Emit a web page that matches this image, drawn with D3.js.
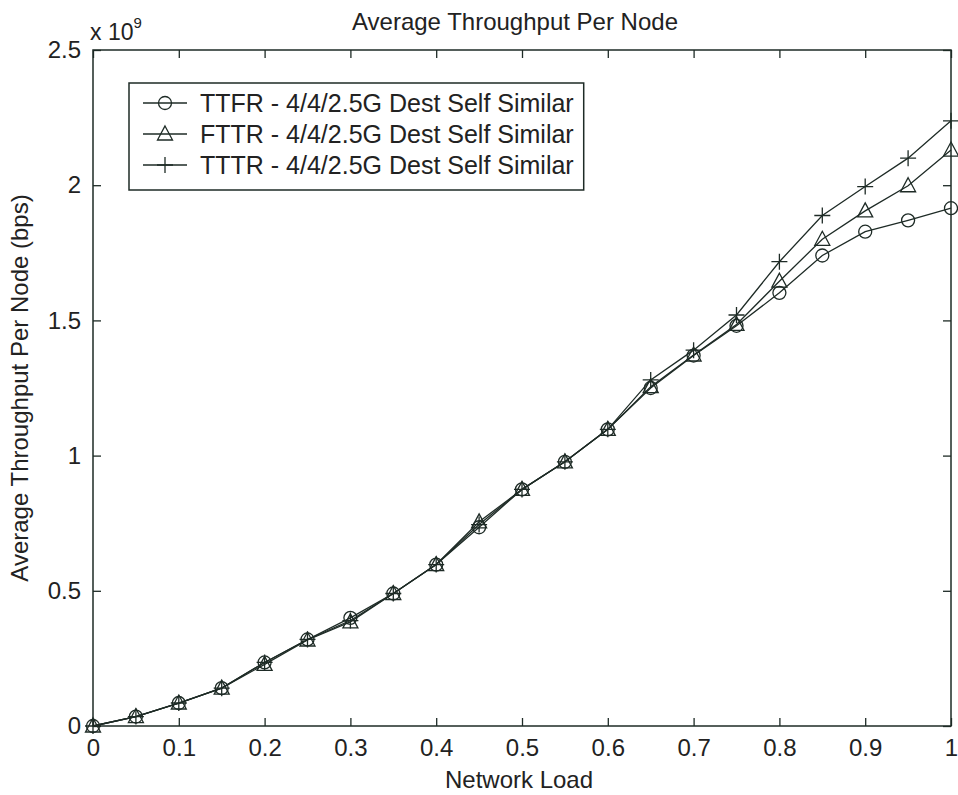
<!DOCTYPE html>
<html>
<head>
<meta charset="utf-8">
<script src="https://cdn.jsdelivr.net/npm/d3@7"></script>
<style>
  body { margin: 0; background: #fff; }
  svg text { font-family: "Liberation Sans", Arial, sans-serif; fill: #222; }
</style>
</head>
<body>
<script>
// network load (x) and throughput per node, in units of 1e9 bps
const loads = [0, 0.05, 0.1, 0.15, 0.2, 0.25, 0.3, 0.35, 0.4, 0.45, 0.5,
               0.55, 0.6, 0.65, 0.7, 0.75, 0.8, 0.85, 0.9, 0.95, 1];
const ttfr = [0, 0.035, 0.085, 0.14, 0.235, 0.32, 0.40, 0.49, 0.597, 0.735, 0.875,
              0.977, 1.097, 1.25, 1.37, 1.48, 1.602, 1.74, 1.828, 1.87, 1.915];
const fttr = [0, 0.035, 0.085, 0.14, 0.228, 0.318, 0.385, 0.49, 0.597, 0.755, 0.875,
              0.977, 1.097, 1.255, 1.372, 1.485, 1.645, 1.80, 1.905, 1.998, 2.13];
const tttr = [0, 0.035, 0.085, 0.14, 0.235, 0.32, 0.39, 0.49, 0.597, 0.745, 0.875,
              0.977, 1.097, 1.28, 1.39, 1.52, 1.717, 1.888, 1.995, 2.10, 2.238];
const seriesNames = ["TTFR - 4/4/2.5G Dest Self Similar",
                     "FTTR - 4/4/2.5G Dest Self Similar",
                     "TTTR - 4/4/2.5G Dest Self Similar"];
const seriesMarks = ["circle", "triangle", "plus"];
const xTicks = [0, 0.1, 0.2, 0.3, 0.4, 0.5, 0.6, 0.7, 0.8, 0.9, 1];
const yTicks = [0, 0.5, 1, 1.5, 2, 2.5];

const W = 958, H = 795;
const plotL = 93, plotR = 951, plotT = 50, plotB = 726;
const ink = "#1e2b26";

const svg = d3.select("body").append("svg")
    .attr("width", W).attr("height", H);

const x = d3.scaleLinear().domain([0, 1]).range([plotL, plotR]);
const y = d3.scaleLinear().domain([0, 2.5]).range([plotB, plotT]);

const fmt = d => String(d);

// axes, ticks pointing inwards like matlab
svg.append("g").attr("transform", "translate(0," + plotB + ")")
    .call(d3.axisBottom(x).tickValues(xTicks).tickFormat(fmt)
        .tickSizeInner(-8).tickSizeOuter(0).tickPadding(13));
svg.append("g").attr("transform", "translate(" + plotL + ",0)")
    .call(d3.axisLeft(y).tickValues(yTicks).tickFormat(fmt)
        .tickSizeInner(-8).tickSizeOuter(0).tickPadding(12));
svg.append("g").attr("transform", "translate(0," + plotT + ")")
    .call(d3.axisTop(x).tickValues(xTicks).tickFormat("")
        .tickSizeInner(-8).tickSizeOuter(0));
svg.append("g").attr("transform", "translate(" + plotR + ",0)")
    .call(d3.axisRight(y).tickValues(yTicks).tickFormat("")
        .tickSizeInner(-8).tickSizeOuter(0));

svg.selectAll(".domain").remove();
svg.selectAll(".tick line").attr("stroke", ink).attr("stroke-width", 1.3);
svg.selectAll(".tick text").attr("font-size", 24).attr("fill", "#222")
    .style("font-family", "Liberation Sans, Arial, sans-serif");

svg.append("rect")
    .attr("x", plotL).attr("y", plotT)
    .attr("width", plotR - plotL).attr("height", plotB - plotT)
    .attr("fill", "none").attr("stroke", ink).attr("stroke-width", 1.5);

// exponent label
const expo = svg.append("text").attr("x", 90).attr("y", 40).attr("font-size", 23);
expo.append("tspan").text("x 10");
expo.append("tspan").attr("font-size", 15).attr("dy", -12).text("9");

// titles
svg.append("text").attr("x", 515).attr("y", 30)
    .attr("text-anchor", "middle").attr("font-size", 24)
    .text("Average Throughput Per Node");
svg.append("text").attr("x", 519).attr("y", 788)
    .attr("text-anchor", "middle").attr("font-size", 24)
    .text("Network Load");
svg.append("text")
    .attr("transform", "translate(28," + ((plotT + plotB) / 2) + ") rotate(-90)")
    .attr("text-anchor", "middle").attr("font-size", 24)
    .text("Average Throughput Per Node (bps)");

// marker drawing
function drawMark(g, kind, cx, cy) {
  if (kind === "circle") {
    g.append("circle").attr("cx", cx).attr("cy", cy).attr("r", 6.5)
        .attr("fill", "none").attr("stroke", ink).attr("stroke-width", 1.3);
  } else if (kind === "triangle") {
    g.append("path")
        .attr("d", "M" + cx + "," + (cy - 8) + "L" + (cx + 7.5) + "," + (cy + 6) +
                   "L" + (cx - 7.5) + "," + (cy + 6) + "Z")
        .attr("fill", "none").attr("stroke", ink).attr("stroke-width", 1.3);
  } else {
    g.append("path")
        .attr("d", "M" + (cx - 8) + "," + cy + "H" + (cx + 8) +
                   "M" + cx + "," + (cy - 8) + "V" + (cy + 8))
        .attr("fill", "none").attr("stroke", ink).attr("stroke-width", 1.3);
  }
}

const allSeries = [ttfr, fttr, tttr];
const line = d3.line().x((d, i) => x(loads[i])).y(d => y(d));

allSeries.forEach((vals, s) => {
  const g = svg.append("g");
  g.append("path").datum(vals).attr("d", line)
      .attr("fill", "none").attr("stroke", ink).attr("stroke-width", 1.3);
  vals.forEach((v, i) => drawMark(g, seriesMarks[s], x(loads[i]), y(v)));
});

// legend
const leg = svg.append("g");
const legBox = leg.append("rect")
    .attr("x", 129).attr("y", 83).attr("height", 107)
    .attr("fill", "#fff").attr("stroke", ink).attr("stroke-width", 1.5);
let maxRight = 0;
seriesNames.forEach((name, s) => {
  const ry = 103 + s * 31;
  leg.append("line").attr("x1", 143).attr("x2", 187).attr("y1", ry).attr("y2", ry)
      .attr("stroke", ink).attr("stroke-width", 1.3);
  drawMark(leg, seriesMarks[s], 165, ry);
  const t = leg.append("text").attr("x", 200).attr("y", ry)
      .attr("dominant-baseline", "central").attr("font-size", 25).text(name);
  maxRight = Math.max(maxRight, 200 + t.node().getComputedTextLength());
});
legBox.attr("width", maxRight + 10 - 129);
</script>
</body>
</html>
